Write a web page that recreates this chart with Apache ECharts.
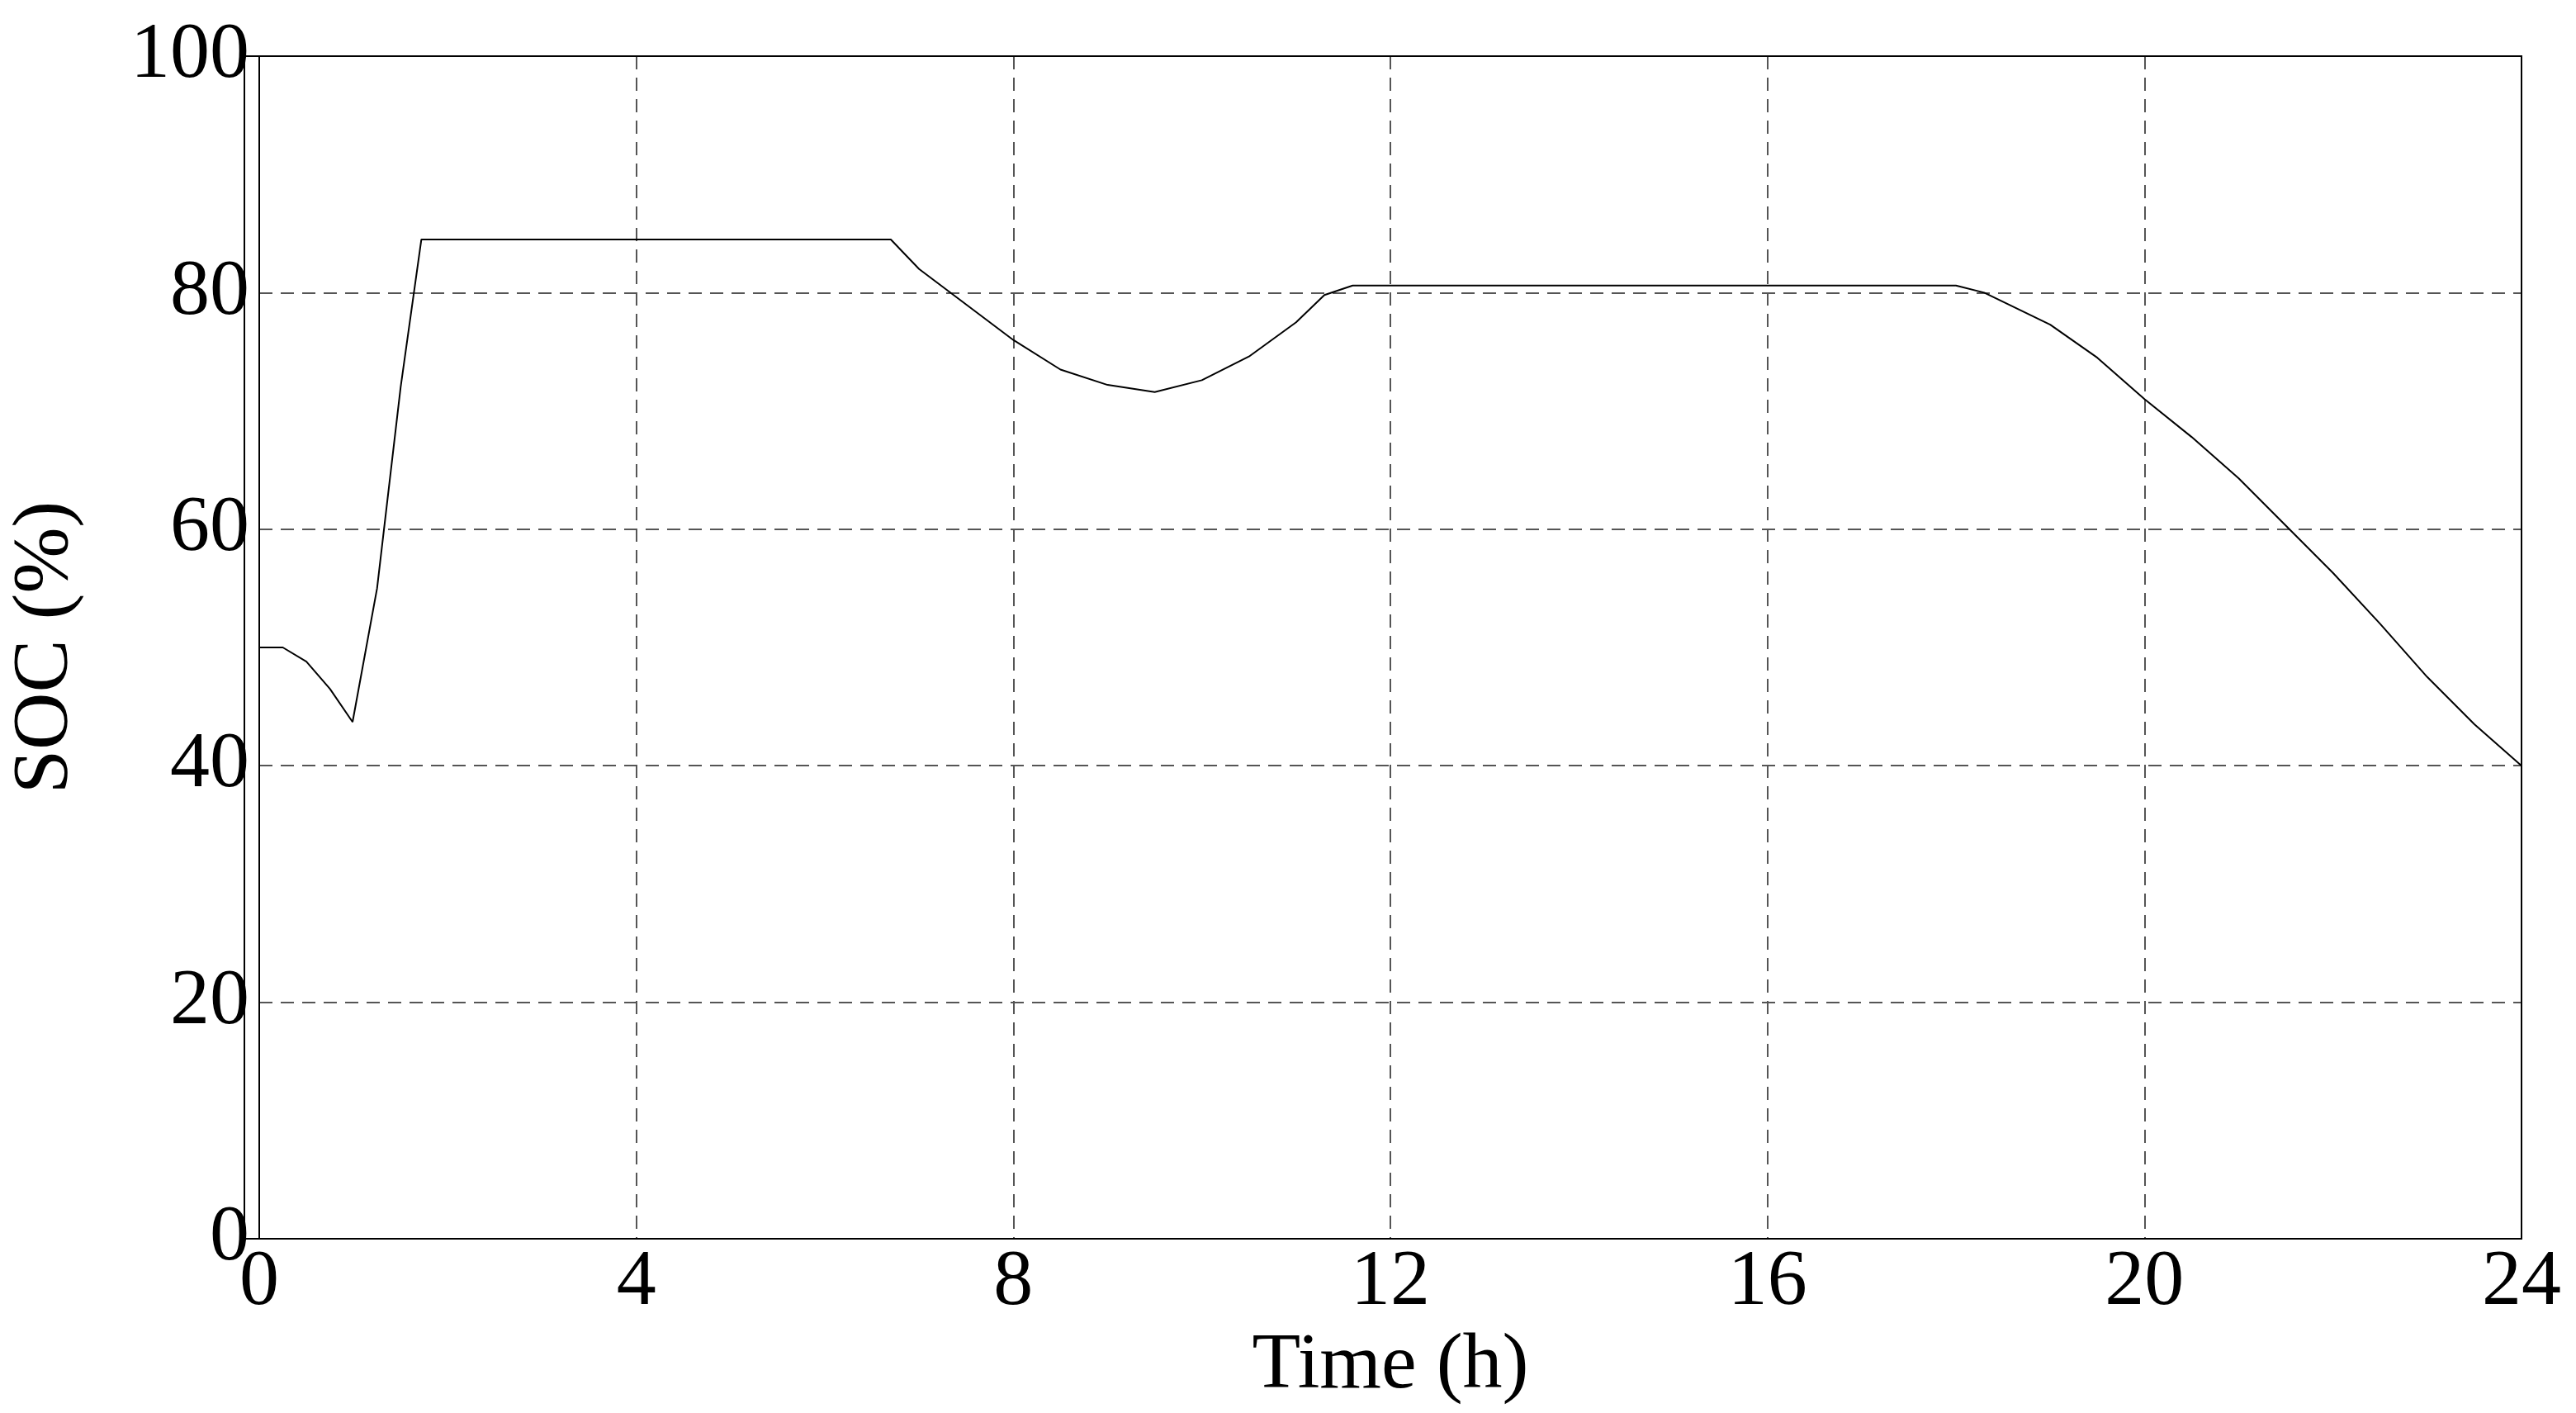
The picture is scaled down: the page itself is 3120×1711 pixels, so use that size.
<!DOCTYPE html>
<html><head><meta charset="utf-8">
<script src="https://cdn.jsdelivr.net/npm/echarts@6/dist/echarts.min.js"></script>
<style>html,body{margin:0;padding:0;background:#fff}#c{width:3120px;height:1711px}</style>
</head><body><div id="c"></div>
<script>
const timeH = [0,0.25,0.5,0.75,0.99,1.25,1.5,1.72,6.7,7.0,7.5,8.0,8.5,9.0,9.5,10.0,10.5,11.0,11.3,11.6,18.0,18.3,19.0,19.5,20.0,20.5,21.0,21.5,22.0,22.5,23.0,23.5,24.0];
const soc   = [50,50,48.8,46.5,43.7,55,72,84.5,84.5,82,79,76,73.5,72.2,71.6,72.6,74.6,77.5,79.8,80.6,80.6,80,77.3,74.5,71,67.8,64.3,60.3,56.3,52,47.5,43.5,40];
const xTicks = [0,4,8,12,16,20,24];
const yTicks = [0,20,40,60,80,100];
const chart = echarts.init(document.getElementById('c'));
const font = 'Liberation Serif, Times New Roman, serif';
chart.setOption({
  animation:false,
  grid:{left:296,right:66,top:68,bottom:211},
  xAxis:{type:'value',min:0,max:24,interval:4,name:'Time (h)',nameLocation:'middle',nameGap:100,
    nameTextStyle:{fontFamily:font,fontSize:96,color:'#000'},
    axisLine:{show:true,lineStyle:{color:'#000',width:2}},axisTick:{show:false},
    axisLabel:{fontFamily:font,fontSize:96,color:'#000',margin:6,formatter:v=>xTicks.includes(v)?String(v):''},
    splitLine:{show:true,lineStyle:{type:[16,10],color:'#555',width:2}}},
  yAxis:{type:'value',min:0,max:100,interval:20,name:'SOC (%)',nameLocation:'middle',nameGap:210,
    nameTextStyle:{fontFamily:font,fontSize:96,color:'#000'},
    axisLine:{show:true,lineStyle:{color:'#000',width:2}},axisTick:{show:false},
    axisLabel:{fontFamily:font,fontSize:96,color:'#000',margin:12,formatter:v=>yTicks.includes(v)?String(v):''},
    splitLine:{show:true,lineStyle:{type:[16,10],color:'#555',width:2}}},
  graphic:[{type:'rect',shape:{x:296,y:68,width:3120-296-66,height:1711-68-211},style:{fill:'none',stroke:'#000',lineWidth:2},z:10}],
  series:[{type:'line',data:timeH.map((t,i)=>[t,soc[i]]),showSymbol:false,smooth:false,lineStyle:{color:'#000',width:2}}]
});
</script></body></html>
